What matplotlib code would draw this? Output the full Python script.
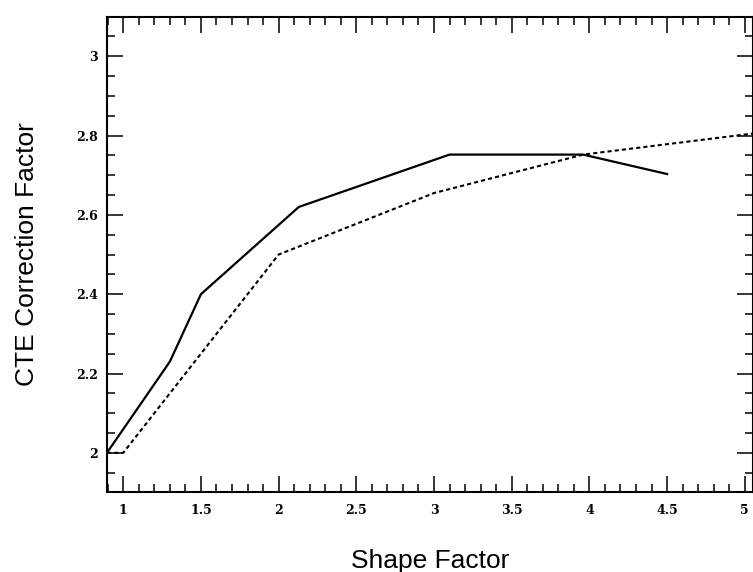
import numpy as np
import matplotlib
matplotlib.use('Agg')
import matplotlib.pyplot as plt
from matplotlib.ticker import MultipleLocator

# solid curve
solid_x = [0.895, 1.3, 1.5, 2.13, 3.1, 3.96, 4.5]
solid_y = [2.0, 2.23, 2.4, 2.62, 2.752, 2.752, 2.703]

# dashed curve
dash_x = [0.895, 1.0, 2.0, 3.0, 3.96, 5.05]
dash_y = [2.0, 2.0, 2.5, 2.655, 2.752, 2.805]

x_ticks = [1, 1.5, 2, 2.5, 3, 3.5, 4, 4.5, 5]
x_labels = ['1', '1.5', '2', '2.5', '3', '3.5', '4', '4.5', '5']
y_ticks = [2, 2.2, 2.4, 2.6, 2.8, 3]
y_labels = ['2', '2.2', '2.4', '2.6', '2.8', '3']

plt.rcParams['lines.scale_dashes'] = False

fig = plt.figure(figsize=(7.53, 5.72), dpi=100)
ax = fig.add_axes([0.142, 0.139, 0.858, 0.832])

ax.plot(solid_x, solid_y, color='black', linewidth=1.6, solid_joinstyle='miter')
ax.plot(dash_x, dash_y, color='black', linewidth=1.5, dashes=(3.0, 2.2))

ax.set_xlim(0.895, 5.053)
ax.set_ylim(1.9, 3.1)

ax.set_xticks(x_ticks)
ax.set_xticklabels(x_labels)
ax.set_yticks(y_ticks)
ax.set_yticklabels(y_labels)
ax.xaxis.set_minor_locator(MultipleLocator(0.1))
ax.yaxis.set_minor_locator(MultipleLocator(0.05))

ax.tick_params(which='both', direction='in', top=True, right=True, width=1.1, color='black')
ax.tick_params(which='major', length=11.5)
ax.tick_params(which='minor', length=5.8)
ax.tick_params(axis='x', which='major', pad=8.0)
ax.tick_params(axis='y', which='major', pad=6.5)

for lab in ax.get_xticklabels() + ax.get_yticklabels():
    lab.set_fontfamily('DejaVu Serif')
    lab.set_fontweight('bold')
    lab.set_fontsize(9)

for sp in ax.spines.values():
    sp.set_linewidth(1.5)

ax.set_xlabel('Shape Factor', fontfamily='Liberation Sans', fontsize=19, labelpad=23)
ax.set_ylabel('CTE Correction Factor', fontfamily='Liberation Sans', fontsize=19, labelpad=27)

fig.savefig('out.png', dpi=100)
